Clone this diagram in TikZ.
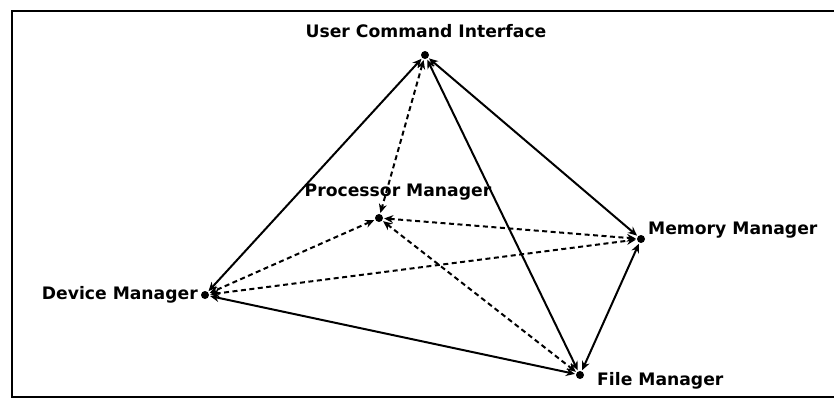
\documentclass[tikz,border=0pt]{standalone}
\usepackage{fontspec}
\setmainfont{DejaVu Sans}
\usetikzlibrary{arrows.meta}
\begin{document}
\begin{tikzpicture}[x=1pt,y=-1pt,
  dotnode/.style={circle,fill=black,inner sep=0pt,minimum size=8pt},
  lbl/.style={font=\bfseries\fontsize{17.2}{19}\selectfont,inner sep=0pt},
  link/.style={line width=2pt,{Stealth[length=9pt,width=8pt]}-{Stealth[length=9pt,width=8pt]},shorten <=1pt,shorten >=1pt},
  dlink/.style={link,dash pattern=on 5pt off 3.5pt}]
\useasboundingbox (0,0) rectangle (834,403);
\draw[line width=2pt] (834,11) -- (12,11) -- (12,397) -- (834,397);
\node[dotnode] (uci) at (425,55) {};
\node[dotnode] (pm) at (379,218) {};
\node[dotnode] (mm) at (641,239) {};
\node[dotnode] (dm) at (205,295) {};
\node[dotnode] (fm) at (580,375) {};
\node[lbl] (uciL) at (426,31) {User Command Interface};
\node[lbl] (pmL) at (398,192) {Processor Manager};
\node[lbl,anchor=west] (mmL) at (648,230) {Memory Manager};
\node[lbl,anchor=east] (dmL) at (198,295) {Device Manager};
\node[lbl,anchor=west] (fmL) at (597,381) {File Manager};
\draw[link] (uci) -- (dm);
\draw[link] (uci) -- (fm);
\draw[link] (uci) -- (mm);
\draw[link] (dm) -- (fm);
\draw[link] (fm) -- (mm);
\draw[dlink] (uci) -- (pm);
\draw[dlink] (pm) -- (mm);
\draw[dlink] (pm) -- (dm);
\draw[dlink] (pm) -- (fm);
\draw[dlink] (dm) -- (mm);
\end{tikzpicture}
\end{document}
